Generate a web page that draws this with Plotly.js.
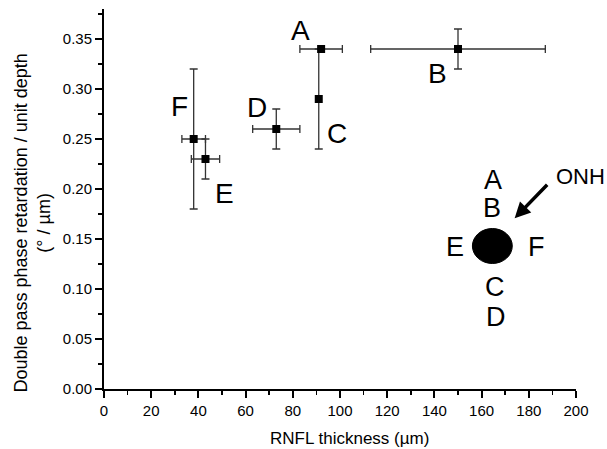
<!DOCTYPE html>
<html>
<head>
<meta charset="utf-8">
<script src="https://cdn.plot.ly/plotly-3.0.1.min.js"></script>
<style>html,body{margin:0;padding:0;background:#fff;}#chart{width:607px;height:449px;}</style>
</head>
<body>
<div id="chart"></div>
<script>
// Data
const pointLabels = ["A", "B", "C", "D", "E", "F"];
const rnflThickness = [92, 150, 91, 73, 43, 38];
const thicknessErr = [9, 37, 0, 10, 6, 5];
const retardation = [0.34, 0.34, 0.29, 0.26, 0.23, 0.25];
const retardationErr = [0, 0.02, 0.05, 0.02, 0.02, 0.07];

// Label placement (data coords) for point letters
const labelX = [83.4, 141.3, 98.6, 64.8, 51.0, 32.0];
const labelY = [0.359, 0.316, 0.256, 0.282, 0.196, 0.283];

// Inset diagram letters (ONH schematic)
const insetLetters = ["A", "B", "E", "F", "C", "D"];
const insetX = [164.8, 164.6, 148.6, 183.1, 165.5, 166.2];
const insetY = [0.209, 0.181, 0.142, 0.142, 0.102, 0.072];

const xTickVals = [0, 20, 40, 60, 80, 100, 120, 140, 160, 180, 200];
const yTickVals = [0, 0.05, 0.10, 0.15, 0.20, 0.25, 0.30, 0.35];

const FONT = "Arial, 'Liberation Sans', sans-serif";

const trace = {
  type: "scatter",
  mode: "markers",
  x: rnflThickness,
  y: retardation,
  text: pointLabels,
  hoverinfo: "text",
  marker: {symbol: "square", size: 8, color: "#000"},
  error_x: {type: "data", array: thicknessErr, visible: true, color: "#333", thickness: 1.3, width: 4},
  error_y: {type: "data", array: retardationErr, visible: true, color: "#333", thickness: 1.3, width: 4},
  showlegend: false,
  cliponaxis: false
};

const annotations = [];
pointLabels.forEach((t, i) => {
  annotations.push({x: labelX[i], y: labelY[i], xref: "x", yref: "y", text: t, showarrow: false,
    font: {family: FONT, size: 28, color: "#000"}, xanchor: "center", yanchor: "middle"});
});
insetLetters.forEach((t, i) => {
  annotations.push({x: insetX[i], y: insetY[i], xref: "x", yref: "y", text: t, showarrow: false,
    font: {family: FONT, size: 27, color: "#000"}, xanchor: "center", yanchor: "middle"});
});
annotations.push({x: (580 - 104) / 472, y: (389 - 176.7) / 380, xref: "paper", yref: "paper", text: "ONH", showarrow: false,
  font: {family: FONT, size: 22, color: "#000"}, xanchor: "center", yanchor: "middle"});
annotations.push({x: 174.0, y: 0.1707, xref: "x", yref: "y", text: "", showarrow: true,
  ax: 34, ay: -35, arrowhead: 2, arrowsize: 0.9, arrowwidth: 3.5, arrowcolor: "#000"});
// Axis titles
annotations.push({x: (31.5 - 104) / 472, y: (389 - 223) / 380, xref: "paper", yref: "paper",
  text: "Double pass phase retardation / unit depth<br>(° / µm)", textangle: -90, showarrow: false,
  font: {family: FONT, size: 18, color: "#000"}, xanchor: "center", yanchor: "middle"});
annotations.push({x: (349 - 104) / 472, y: (389 - 438) / 380, xref: "paper", yref: "paper",
  text: "RNFL thickness (µm)", showarrow: false,
  font: {family: FONT, size: 17, color: "#000"}, xanchor: "center", yanchor: "middle"});

const layout = {
  width: 607, height: 449,
  margin: {l: 104, r: 31, t: 9, b: 60, pad: 0},
  paper_bgcolor: "#fff", plot_bgcolor: "#fff",
  showlegend: false,
  font: {family: FONT, size: 15, color: "#000"},
  xaxis: {
    range: [0, 200], tickvals: xTickVals, ticks: "outside", ticklen: 7, tickwidth: 2, tickcolor: "#000",
    showline: true, linewidth: 2, linecolor: "#000", showgrid: false, zeroline: false,
    tickfont: {family: FONT, size: 15, color: "#000"},
    minor: {dtick: 10, tick0: 0, ticks: "outside", ticklen: 4, tickwidth: 1.5, tickcolor: "#000", showgrid: false}
  },
  yaxis: {
    range: [0, 0.38], tickvals: yTickVals, tickformat: ".2f", ticks: "outside", ticklen: 7, tickwidth: 2, tickcolor: "#000",
    showline: true, linewidth: 2, linecolor: "#000", showgrid: false, zeroline: false,
    tickfont: {family: FONT, size: 15, color: "#000"},
    minor: {dtick: 0.025, tick0: 0, ticks: "outside", ticklen: 4, tickwidth: 1.5, tickcolor: "#000", showgrid: false}
  },
  shapes: [{type: "circle", xref: "x", yref: "y", x0: 156.1, x1: 173.0, y0: 0.1255, y1: 0.1605,
    fillcolor: "#000", line: {color: "#000", width: 1}}],
  annotations: annotations
};

Plotly.newPlot("chart", [trace], layout, {staticPlot: true, displayModeBar: false});
</script>
</body>
</html>
